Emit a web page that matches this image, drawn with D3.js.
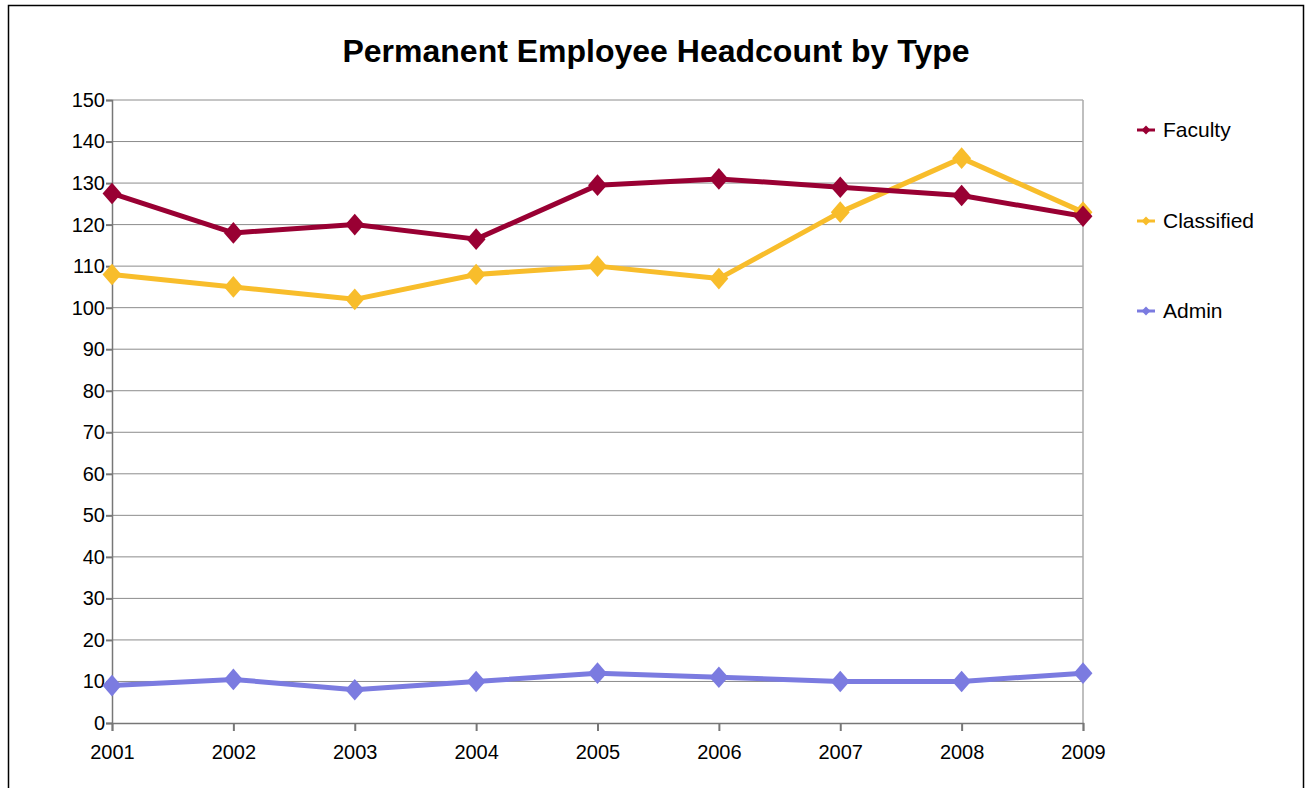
<!DOCTYPE html>
<html>
<head>
<meta charset="utf-8">
<script src="https://cdn.jsdelivr.net/npm/d3@7"></script>
<style>
  body { margin: 0; background: #fff; }
  text { font-family: "Liberation Sans", Arial, sans-serif; }
</style>
</head>
<body>
<div id="chart"></div>
<script>
var years = ["2001", "2002", "2003", "2004", "2005", "2006", "2007", "2008", "2009"];
var faculty = [127.5, 118, 120, 116.5, 129.5, 131, 129, 127, 122];
var classified = [108, 105, 102, 108, 110, 107, 123, 136, 123];
var admin = [9, 10.5, 8, 10, 12, 11, 10, 10, 12];
var seriesNames = ["Faculty", "Classified", "Admin"];
var seriesColors = ["#990033", "#f8bd2b", "#7b7be0"];
var yTicks = d3.range(0, 151, 10);

var w = 1306, h = 788;
var svg = d3.select("#chart").append("svg")
    .attr("width", w)
    .attr("height", h);

// outer frame
svg.append("rect")
    .attr("x", 8.5).attr("y", 5.5)
    .attr("width", 1295).attr("height", 800)
    .style("fill", "#fff")
    .style("stroke", "#000")
    .style("stroke-width", 1.5);

var plotL = 112, plotR = 1083, plotT = 100, plotB = 723;

var x = d3.scalePoint().domain(years).range([plotL, plotR]);
var y = d3.scaleLinear().domain([0, 150]).range([plotB, plotT]);

svg.append("text")
    .attr("x", 656).attr("y", 62)
    .attr("text-anchor", "middle")
    .style("font-size", "32px")
    .style("font-weight", "bold")
    .text("Permanent Employee Headcount by Type");

// gridlines
svg.append("g").selectAll("line")
    .data(yTicks.filter(d => d > 0))
    .join("line")
    .attr("x1", plotL).attr("x2", plotR)
    .attr("y1", d => y(d)).attr("y2", d => y(d))
    .style("stroke", "#8c8c8c")
    .style("stroke-width", 1);

// right border of plot
svg.append("line")
    .attr("x1", plotR).attr("x2", plotR)
    .attr("y1", plotT).attr("y2", plotB)
    .style("stroke", "#aaa")
    .style("stroke-width", 1.5);

// y axis
var yAxis = svg.append("g")
    .attr("transform", "translate(" + plotL + ",0)")
    .call(d3.axisLeft(y).tickValues(yTicks).tickSize(6).tickPadding(1));
yAxis.select(".domain").style("stroke", "#777").style("stroke-width", 1.5);
yAxis.selectAll(".tick line").style("stroke", "#777").style("stroke-width", 2);
yAxis.selectAll("text").style("font-size", "20px").style("fill", "#000")
    .style("font-family", "'Liberation Sans', Arial, sans-serif");

// x axis
var xAxis = svg.append("g")
    .attr("transform", "translate(0," + plotB + ")")
    .call(d3.axisBottom(x).tickSize(8).tickPadding(14));
xAxis.select(".domain").style("stroke", "#777").style("stroke-width", 1.5);
xAxis.selectAll(".tick line").style("stroke", "#777").style("stroke-width", 2);
xAxis.selectAll("text").style("font-size", "20px").style("fill", "#000")
    .style("font-family", "'Liberation Sans', Arial, sans-serif");

var data = [faculty, classified, admin];
var line = d3.line().x((d, i) => x(years[i])).y(d => y(d));
var diamond = d3.symbol().type(d3.symbolDiamond2);

// admin first, faculty last so it sits on top
[2, 1, 0].forEach(function (k) {
    var g = svg.append("g");
    g.append("path")
        .datum(data[k])
        .attr("d", line)
        .style("fill", "none")
        .style("stroke", seriesColors[k])
        .style("stroke-width", 5)
        .style("stroke-linejoin", "round");
    g.selectAll("path.pt")
        .data(data[k])
        .join("path")
        .attr("class", "pt")
        .attr("d", diamond.size(270))
        .attr("transform", (d, i) => "translate(" + x(years[i]) + "," + y(d) + ") scale(0.92,1.05)")
        .style("fill", seriesColors[k]);
});

// legend
var legendY = [130, 221, 311];
var legend = svg.append("g").selectAll("g")
    .data(seriesNames)
    .join("g")
    .attr("transform", (d, i) => "translate(1137," + legendY[i] + ")");
legend.append("line")
    .attr("x1", 0).attr("x2", 18)
    .style("stroke", (d, i) => seriesColors[i])
    .style("stroke-width", 3);
legend.append("path")
    .attr("d", diamond.size(50))
    .attr("transform", "translate(9,0)")
    .style("fill", (d, i) => seriesColors[i]);
legend.append("text")
    .attr("x", 26).attr("y", 7)
    .style("font-size", "21px")
    .text(d => d);
</script>
</body>
</html>
